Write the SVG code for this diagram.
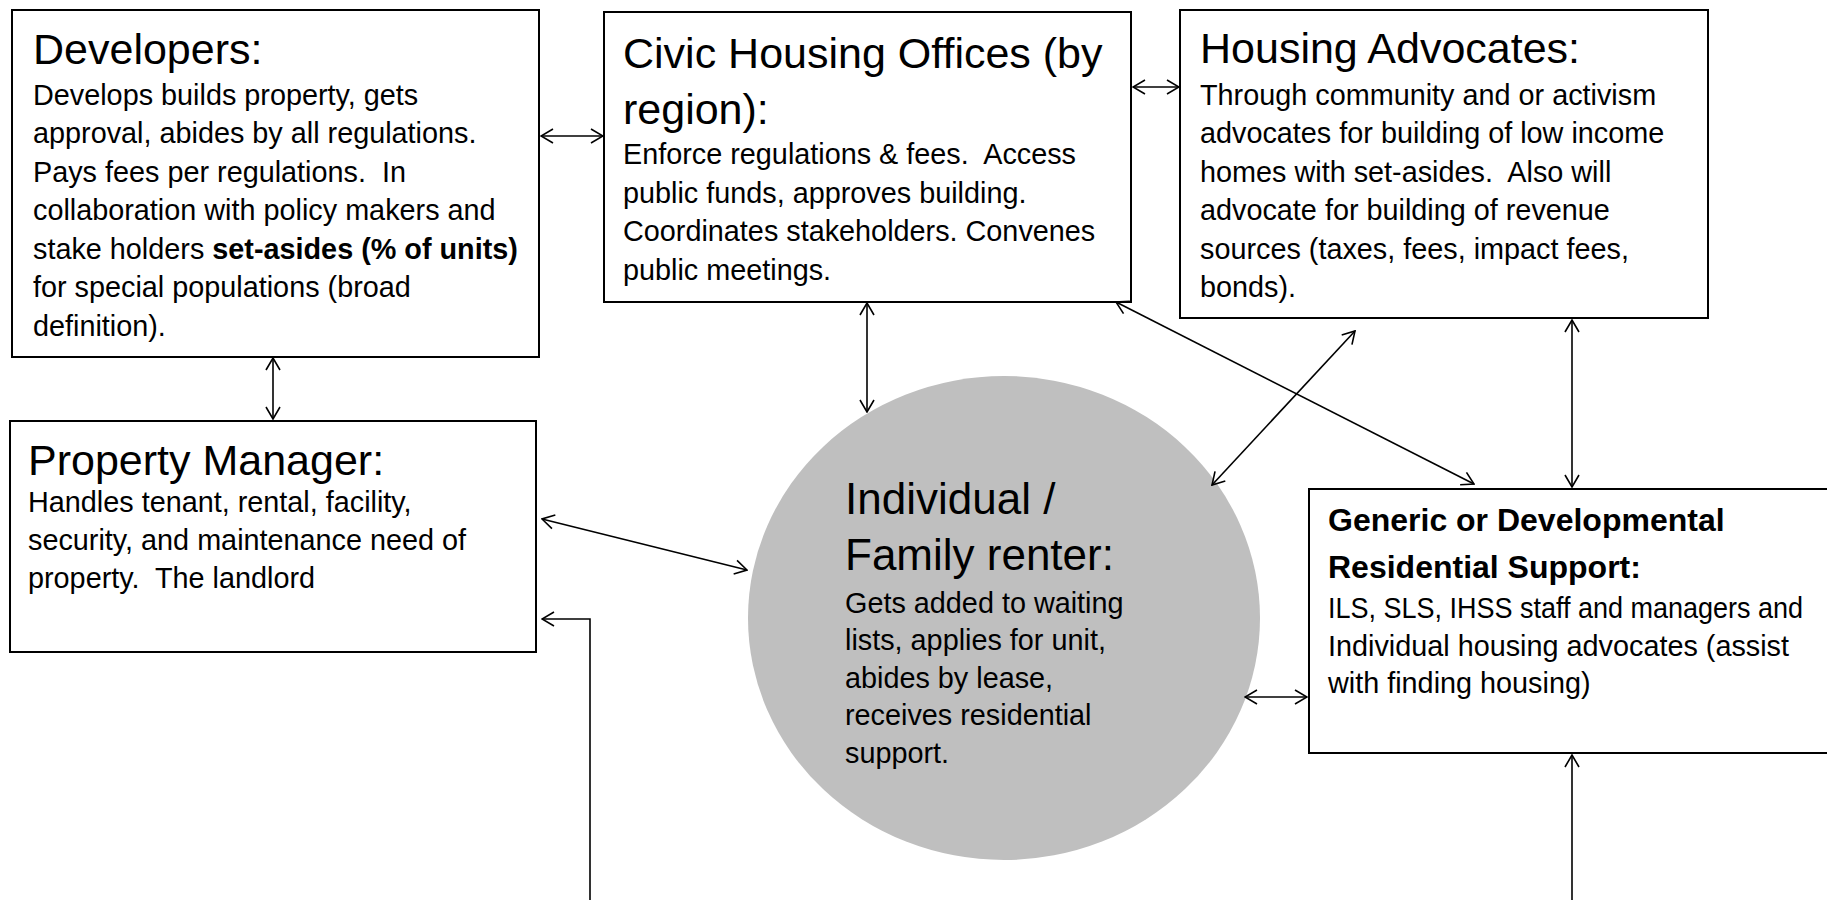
<svg xmlns="http://www.w3.org/2000/svg" width="1827" height="900" viewBox="0 0 1827 900">
<style>
text{white-space:pre}
.box{fill:#fff;stroke:#000;stroke-width:2}
.t{font-family:"Liberation Sans",Arial,sans-serif;font-size:43px;fill:#000}
.b{font-family:"Liberation Sans",Arial,sans-serif;font-size:28.8px;fill:#000}
.bt{font-family:"Liberation Sans",Arial,sans-serif;font-size:32px;font-weight:bold;fill:#000}
.c{fill:none;stroke:#000;stroke-width:1.6}
</style>
<defs>
<marker id="ah" viewBox="0 0 14 16" refX="13" refY="8" markerWidth="14" markerHeight="16" markerUnits="userSpaceOnUse" orient="auto-start-reverse">
<path d="M1,1 L13,8 L1,15" fill="none" stroke="#000" stroke-width="1.6"/>
</marker>
</defs>
<rect width="1827" height="900" fill="#fff"/>
<g id="renter">
<ellipse cx="1004" cy="618" rx="256" ry="242" fill="#bfbfbf"/>
<text class="t" x="845" y="514" style="font-size:44px">Individual /</text>
<text class="t" x="845" y="570" style="font-size:44px">Family renter:</text>
<text class="b" x="845" y="613">Gets added to waiting</text>
<text class="b" x="845" y="650">lists, applies for unit,</text>
<text class="b" x="845" y="688">abides by lease,</text>
<text class="b" x="845" y="725">receives residential</text>
<text class="b" x="845" y="763">support.</text>
</g>
<g id="developers">
<rect class="box" x="12" y="10" width="527" height="347"/>
<text class="t" x="33" y="64">Developers:</text>
<text class="b" x="33" y="105">Develops builds property, gets</text>
<text class="b" x="33" y="143">approval, abides by all regulations.</text>
<text class="b" x="33" y="182">Pays fees per regulations.  In</text>
<text class="b" x="33" y="220">collaboration with policy makers and</text>
<text class="b" x="33" y="259">stake holders <tspan font-weight="bold">set-asides (% of units)</tspan></text>
<text class="b" x="33" y="297">for special populations (broad</text>
<text class="b" x="33" y="336">definition).</text>
</g>
<g id="civic">
<rect class="box" x="604" y="12" width="527" height="290"/>
<text class="t" x="623" y="68">Civic Housing Offices (by</text>
<text class="t" x="623" y="124">region):</text>
<text class="b" x="623" y="164">Enforce regulations &amp; fees.  Access</text>
<text class="b" x="623" y="203">public funds, approves building.</text>
<text class="b" x="623" y="241">Coordinates stakeholders. Convenes</text>
<text class="b" x="623" y="280">public meetings.</text>
</g>
<g id="advocates">
<rect class="box" x="1180" y="10" width="528" height="308"/>
<text class="t" x="1200" y="63">Housing Advocates:</text>
<text class="b" x="1200" y="105">Through community and or activism</text>
<text class="b" x="1200" y="143">advocates for building of low income</text>
<text class="b" x="1200" y="182">homes with set-asides.  Also will</text>
<text class="b" x="1200" y="220">advocate for building of revenue</text>
<text class="b" x="1200" y="259">sources (taxes, fees, impact fees,</text>
<text class="b" x="1200" y="297">bonds).</text>
</g>
<g id="property-manager">
<rect class="box" x="10" y="421" width="526" height="231"/>
<text class="t" x="28" y="475">Property Manager:</text>
<text class="b" x="28" y="512">Handles tenant, rental, facility,</text>
<text class="b" x="28" y="550">security, and maintenance need of</text>
<text class="b" x="28" y="588">property.  The landlord</text>
</g>
<g id="residential-support">
<path class="box" d="M1827,489 H1309 V753 H1827"/>
<text class="bt" x="1328" y="531">Generic or Developmental</text>
<text class="bt" x="1328" y="578">Residential Support:</text>
<text class="b" x="1328" y="618" textLength="475" lengthAdjust="spacingAndGlyphs">ILS, SLS, IHSS staff and managers and</text>
<text class="b" x="1328" y="656">Individual housing advocates (assist</text>
<text class="b" x="1328" y="693">with finding housing)</text>
</g>
<g id="connectors">
<line class="c" x1="541" y1="136" x2="603" y2="136" marker-start="url(#ah)" marker-end="url(#ah)"/>
<line class="c" x1="1133" y1="87" x2="1179" y2="87" marker-start="url(#ah)" marker-end="url(#ah)"/>
<line class="c" x1="273" y1="358" x2="273" y2="419" marker-start="url(#ah)" marker-end="url(#ah)"/>
<line class="c" x1="867" y1="303" x2="867" y2="412" marker-start="url(#ah)" marker-end="url(#ah)"/>
<line class="c" x1="542" y1="519" x2="747" y2="570" marker-start="url(#ah)" marker-end="url(#ah)"/>
<path class="c" d="M590,900 V619 H542" marker-end="url(#ah)"/>
<line class="c" x1="1116" y1="302" x2="1474" y2="484" marker-start="url(#ah)" marker-end="url(#ah)"/>
<line class="c" x1="1355" y1="331" x2="1212" y2="485" marker-start="url(#ah)" marker-end="url(#ah)"/>
<line class="c" x1="1572" y1="320" x2="1572" y2="487" marker-start="url(#ah)" marker-end="url(#ah)"/>
<line class="c" x1="1245" y1="697" x2="1307" y2="697" marker-start="url(#ah)" marker-end="url(#ah)"/>
<path class="c" d="M1572,900 V755" marker-end="url(#ah)"/>
</g>
</svg>
